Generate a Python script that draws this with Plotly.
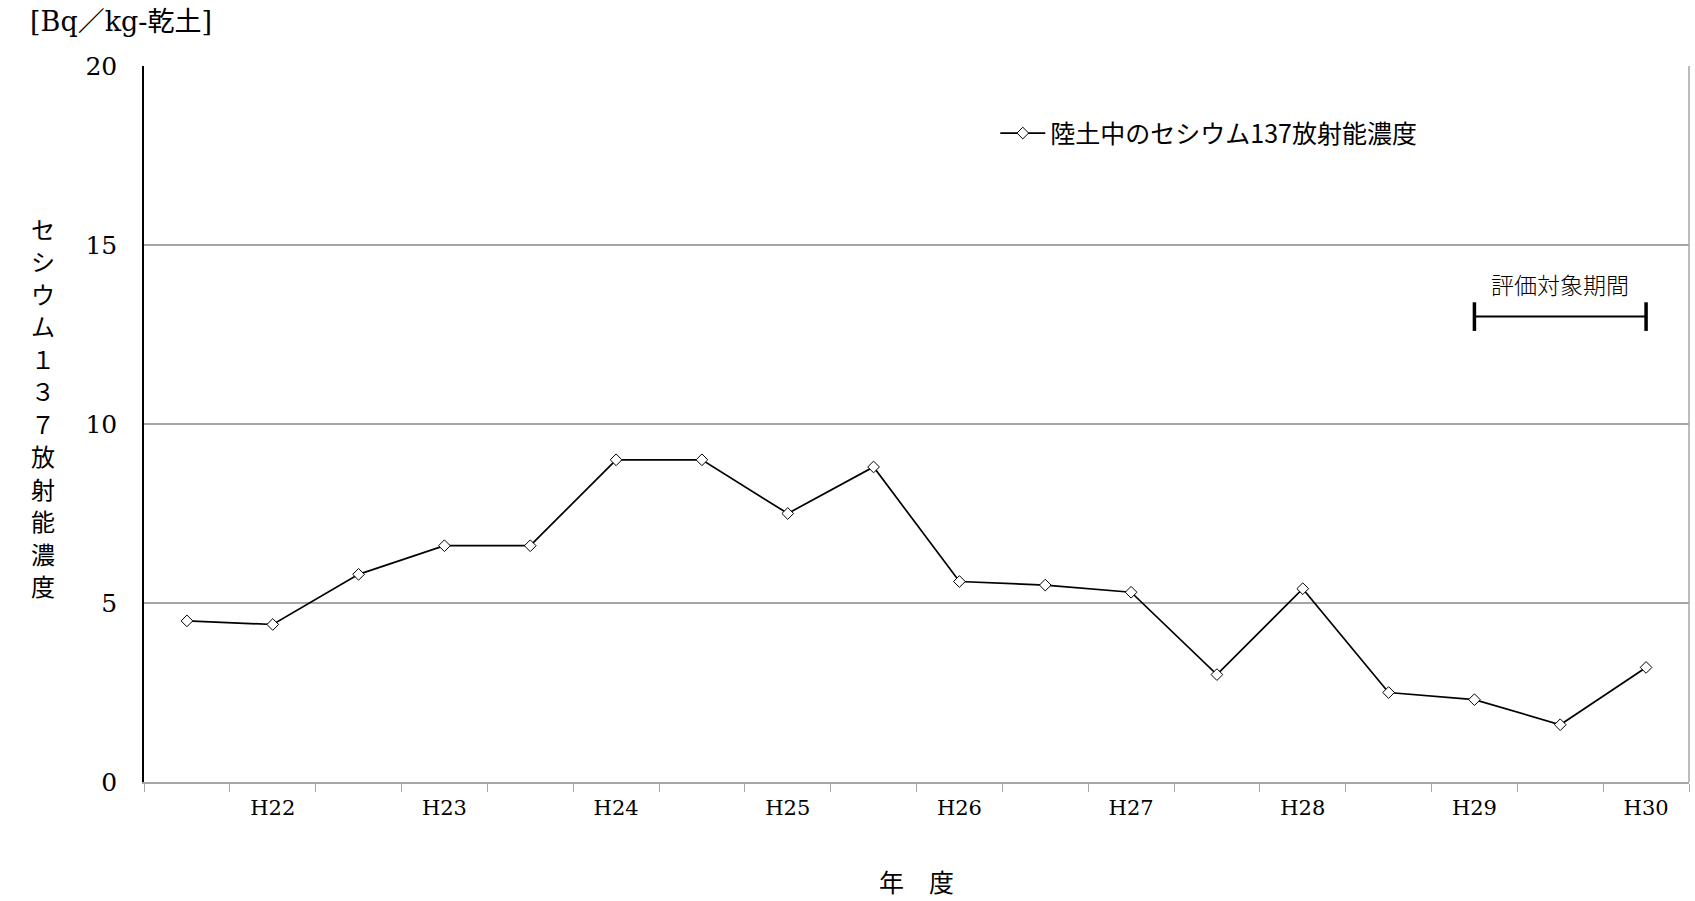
import plotly.graph_objects as go

# Half-year sampling periods (labelled once per fiscal year, on the second half)
periods = list(range(18))
period_labels = ["", "H22", "", "H23", "", "H24", "", "H25", "", "H26",
                 "", "H27", "", "H28", "", "H29", "", "H30"]
cs137 = [4.5, 4.4, 5.8, 6.6, 6.6, 9.0, 9.0, 7.5, 8.8,
         5.6, 5.5, 5.3, 3.0, 5.4, 2.5, 2.3, 1.6, 3.2]

series_name = "陸土中のセシウム137放射能濃度"
y_title = "セシウム１３７放射能濃度"
unit_label = "[Bq／kg-乾土]"
x_title = "年　度"

# Evaluation period bracket (from H29 to H30)
eval_label = "評価対象期間"
eval_start = 15
eval_end = 17
eval_level = 13.0
eval_cap = 0.4

SERIF = "DejaVu Serif, Noto Sans CJK JP"
CJK = "Noto Sans CJK JP"
GRID = "#a6a6a6"

fig = go.Figure()
fig.add_trace(go.Scatter(
    x=periods, y=cs137, name=series_name, mode="lines+markers",
    line=dict(color="black", width=1.7),
    marker=dict(symbol="diamond", size=9, color="white",
                line=dict(color="black", width=1)),
))

# bracket for the evaluation period
fig.add_shape(type="line", x0=eval_start, x1=eval_end, y0=eval_level, y1=eval_level,
              line=dict(color="black", width=2))
for xv in (eval_start, eval_end):
    fig.add_shape(type="line", x0=xv, x1=xv,
                  y0=eval_level - eval_cap, y1=eval_level + eval_cap,
                  line=dict(color="black", width=3.5))
fig.add_annotation(x=(eval_start + eval_end) / 2, y=eval_level, yshift=33,
                   text=eval_label, showarrow=False,
                   font=dict(family=CJK, size=23, color="black", weight=300))

# plot frame on the right side
fig.add_shape(type="line", xref="paper", yref="paper", x0=1, x1=1, y0=0, y1=1,
              line=dict(color=GRID, width=1.5))

# vertical axis title, stacked one character at a time
step = 32.5
n = len(y_title)
for i, ch in enumerate(y_title):
    fig.add_annotation(xref="paper", yref="paper", x=-0.0745, y=0.524,
                       yshift=((n - 1) / 2 - i) * step,
                       text=ch, showarrow=False, yanchor="middle",
                       font=dict(family=CJK, size=24, color="black"))

fig.add_annotation(xref="paper", yref="paper", x=-0.075, y=1.0615,
                   xanchor="left", yanchor="middle",
                   text=unit_label, showarrow=False,
                   font=dict(family=SERIF, size=27, color="black"))
fig.add_annotation(xref="paper", yref="paper", x=0.5, y=-0.138, yanchor="middle",
                   text=x_title, showarrow=False,
                   font=dict(family=CJK, size=25, color="black"))

fig.update_layout(
    width=1695, height=901,
    margin=dict(l=144, r=6, t=66, b=119),
    paper_bgcolor="white", plot_bgcolor="white",
    showlegend=True,
    legend=dict(x=0.551, y=0.906, xanchor="left", yanchor="middle",
                bgcolor="rgba(0,0,0,0)", itemwidth=45,
                font=dict(family=CJK, size=25, color="black")),
    xaxis=dict(
        range=[-0.5, 17.5], tickmode="array", tickvals=periods, ticktext=period_labels,
        ticks="", showgrid=False, zeroline=False,
        showline=True, linecolor=GRID, linewidth=2, mirror=False,
        tickfont=dict(family=SERIF, size=21, color="black"),
        ticklabelstandoff=6,
        minor=dict(ticks="outside", tick0=-0.5, dtick=1, ticklen=8,
                   tickcolor=GRID, tickwidth=1, showgrid=False),
    ),
    yaxis=dict(
        range=[0, 20], tickmode="linear", tick0=0, dtick=5,
        showgrid=True, gridcolor=GRID, gridwidth=1.5, zeroline=False,
        showline=True, linecolor="black", linewidth=1.5, ticks="",
        tickfont=dict(family=SERIF, size=25, color="black"),
        ticklabelstandoff=20,
    ),
)

fig.write_html("out.html")
